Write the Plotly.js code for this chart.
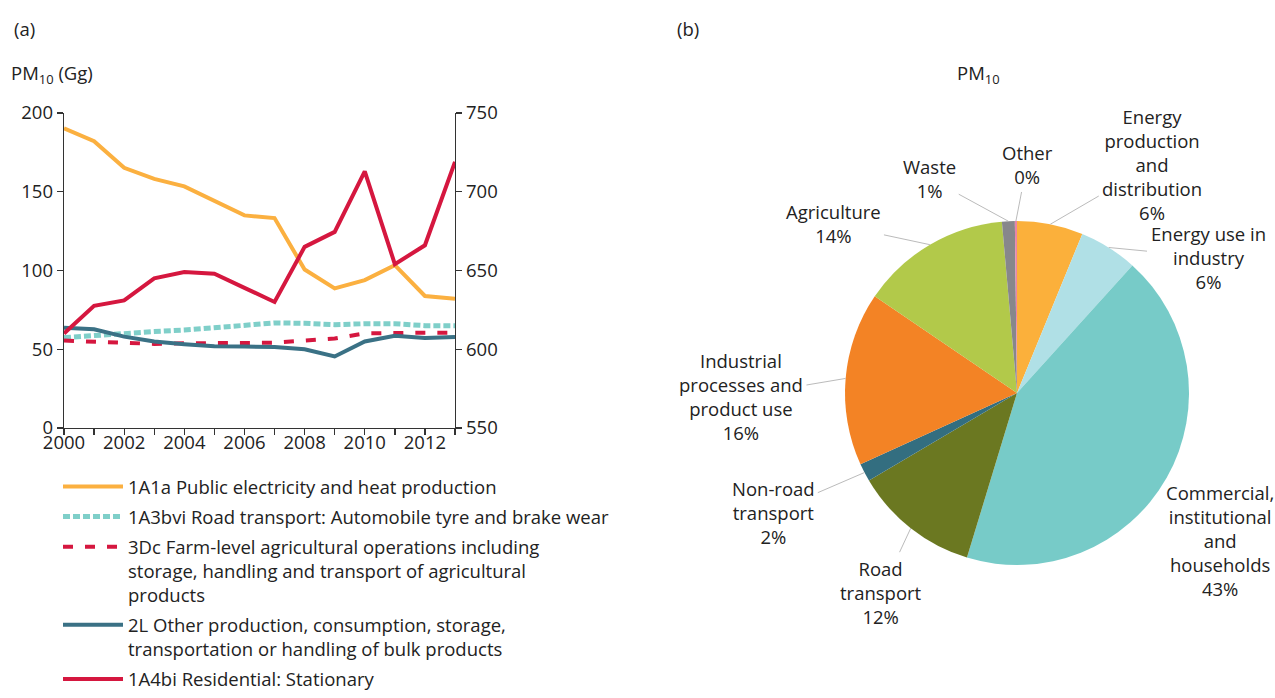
<!DOCTYPE html>
<html>
<head>
<meta charset="utf-8">
<script src="https://cdn.plot.ly/plotly-3.0.1.min.js"></script>
<style>
html,body{margin:0;padding:0;background:#fff;}
#chart{width:1275px;height:698px;}
</style>
</head>
<body>
<div id="chart"></div>
<script>
// ---------- DATA ----------
const years = [2000,2001,2002,2003,2004,2005,2006,2007,2008,2009,2010,2011,2012,2013];
const xTickLabels = ['2000','','2002','','2004','','2006','','2008','','2010','','2012',''];

const seriesNames = [
  '1A1a Public electricity and heat production',
  '1A3bvi Road transport: Automobile tyre and brake wear',
  '3Dc Farm-level agricultural operations including<br>storage, handling and transport of agricultural<br>products',
  '2L Other production, consumption, storage,<br>transportation or handling of bulk products',
  '1A4bi Residential: Stationary'
];
const publicElectricity = [190.3,182.1,165.2,158.2,153.4,144.5,135.0,133.3,100.6,88.6,93.9,103.4,83.8,82.1];
const roadTyreBrake     = [57.4,58.9,60.1,61.2,62.2,63.9,65.6,66.7,66.5,65.6,66.2,66.2,65.0,65.0];
const farmLevel         = [55.5,54.9,53.8,53.4,53.8,54.2,54.0,54.2,55.5,56.8,60.1,60.5,60.5,60.5];
const bulkProducts      = [63.7,62.7,58.0,54.9,53.2,51.9,51.7,51.5,50.0,45.4,54.9,58.6,57.2,57.8];
const residential       = [610,627.6,631,645,649,648,639,630,665,674.5,713,654,666,719]; // right axis

const pieLabels = ['Energy production and distribution','Energy use in industry','Commercial, institutional and households','Road transport','Non-road transport','Industrial processes and product use','Agriculture','Waste','Other'];
const pieDisplay = ['Energy<br>production<br>and<br>distribution','Energy use in<br>industry','Commercial,<br>institutional<br>and<br>households','Road<br>transport','Non-road<br>transport','Industrial<br>processes and<br>product use','Agriculture','Waste','Other'];
const pieValues = [6.2,5.5,43.0,11.8,1.7,16.3,14.1,1.2,0.2];

// ---------- STYLE / LAYOUT ----------
const W = 1275, H = 698;
const FONT = 'Open Sans, Noto Sans, sans-serif';
const FS = 18.5;
const lineColors = ['#FBB040','#7FCFC9','#D5173F','#3A7185','#D5173F'];
const pieColors = ['#FBB03B','#B0E0E6','#77CBC8','#6B7821','#336E80','#F38325','#B2C94A','#87878B','#E985A8'];
const pieCenter = [1017, 393], pieR = 172;
// text centre positions (pixels) of pie labels
const labelCentres = [[1152,165],[1208,257],[1220,540],[881,592],[773,512],[741,396],[833,224],[929,178],[1027,164]];

const traces = [
  {x: years, y: publicElectricity, name: seriesNames[0], line:{color:lineColors[0], width:4}},
  {x: years, y: roadTyreBrake, name: seriesNames[1], line:{color:lineColors[1], width:5, dash:'7px,3px'}},
  {x: years, y: farmLevel, name: seriesNames[2], line:{color:lineColors[2], width:4, dash:'10px,12px'}},
  {x: years, y: bulkProducts, name: seriesNames[3], line:{color:lineColors[3], width:4}},
  {x: years, y: residential, name: seriesNames[4], yaxis:'y2', line:{color:lineColors[4], width:4}}
].map((t,i)=>Object.assign(t,{type:'scatter', mode:'lines', legendgroup:'g'+i, hoverinfo:'x+y'}));

traces.push({
  type:'pie', labels: pieLabels, values: pieValues, sort:false, direction:'clockwise', rotation:0,
  marker:{colors: pieColors, line:{width:0}}, textinfo:'none', showlegend:false,
  domain:{x:[(pieCenter[0]-pieR)/W,(pieCenter[0]+pieR)/W], y:[1-(pieCenter[1]+pieR)/H, 1-(pieCenter[1]-pieR)/H]}
});

// pie label annotations from slice mid-angles
const total = pieValues.reduce((a,b)=>a+b,0);
const annotations = [];
let cum = 0;
pieValues.forEach((v,i)=>{
  const mid = (cum + v/2)/total*2*Math.PI; cum += v;
  const px = pieCenter[0] + pieR*Math.sin(mid);
  const py = pieCenter[1] - pieR*Math.cos(mid);
  annotations.push({
    xref:'paper', yref:'paper', x: px/W, y: 1-py/H,
    ax: labelCentres[i][0]-px, ay: labelCentres[i][1]-py,
    text: pieDisplay[i] + '<br>' + Math.round(v/total*100) + '%',
    showarrow:true, arrowhead:0, arrowwidth:1, arrowcolor:'#BBBBBB', standoff:0, startstandoff:2,
    font:{family:FONT, size:FS, color:'#222'}, align:'center'
  });
});
annotations.push(
  {xref:'paper', yref:'paper', x:12/W, y:1-28/H, xanchor:'left', yanchor:'middle', showarrow:false, text:'(a)', font:{family:FONT,size:FS,color:'#222'}},
  {xref:'paper', yref:'paper', x:675/W, y:1-28/H, xanchor:'left', yanchor:'middle', showarrow:false, text:'(b)', font:{family:FONT,size:FS,color:'#222'}},
  {xref:'paper', yref:'paper', x:9/W, y:1-74/H, xanchor:'left', yanchor:'middle', showarrow:false, text:'PM<sub>10</sub> (Gg)', font:{family:FONT,size:FS,color:'#222'}},
  {xref:'paper', yref:'paper', x:978/W, y:1-74/H, xanchor:'center', yanchor:'middle', showarrow:false, text:'PM<sub>10</sub>', font:{family:FONT,size:FS,color:'#222'}}
);

const axisCommon = {showgrid:false, zeroline:false, showline:true, linecolor:'#333', linewidth:1.3,
  ticks:'outside', ticklen:6, tickcolor:'#333', tickwidth:1.3,
  tickfont:{family:FONT, size:FS, color:'#222'}};

const layout = {
  width:W, height:H, margin:{l:0,r:0,t:0,b:0}, paper_bgcolor:'#fff', plot_bgcolor:'#fff',
  font:{family:FONT, color:'#222'},
  xaxis: Object.assign({}, axisCommon, {domain:[64/W, 455/W], range:[2000,2013], tickmode:'array', tickvals:years, ticktext:xTickLabels, tickangle:0, anchor:'y', ticklabelstandoff:-9}),
  yaxis: Object.assign({}, axisCommon, {domain:[1-428/H, 1-113/H], range:[0,200], tickvals:[0,50,100,150,200], anchor:'x'}),
  yaxis2: Object.assign({}, axisCommon, {overlaying:'y', side:'right', anchor:'x', range:[550,750], tickvals:[550,600,650,700,750]}),
  showlegend:true,
  legend:{x:58/W, y:0, xanchor:'left', yanchor:'bottom', orientation:'v', traceorder:'grouped', tracegroupgap:3, valign:'top',
    font:{family:FONT, size:FS, color:'#222'}, bgcolor:'rgba(0,0,0,0)', itemwidth:60},
  annotations: annotations
};

Plotly.newPlot('chart', traces, layout, {displayModeBar:false, staticPlot:true});
</script>
</body>
</html>
